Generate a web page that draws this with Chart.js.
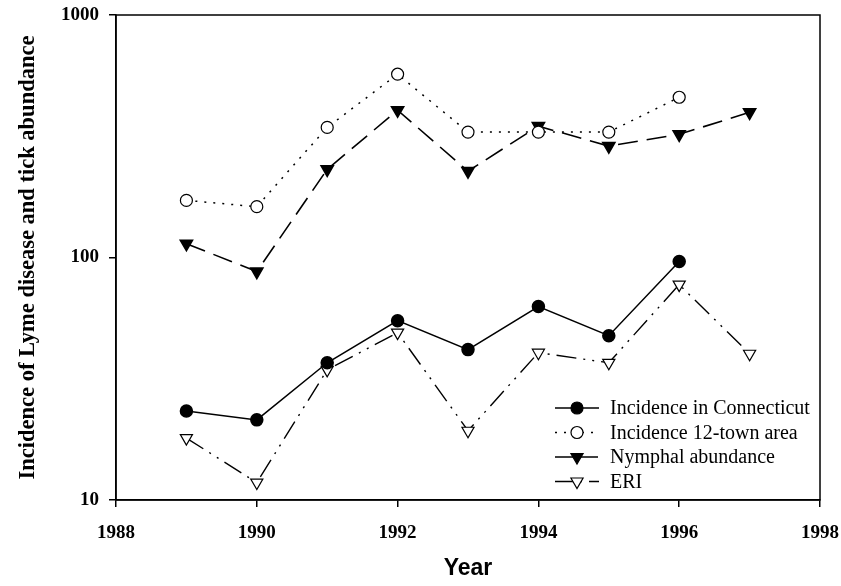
<!DOCTYPE html>
<html>
<head>
<meta charset="utf-8">
<script src="https://cdn.jsdelivr.net/npm/chart.js@4/dist/chart.umd.min.js"></script>
<style>
  html, body { margin: 0; padding: 0; background: #fff; }
  #wrap { width: 841px; height: 586px; }
</style>
</head>
<body>
<div id="wrap"><canvas id="chart" width="841" height="586"></canvas></div>
<script>
const years = [1989, 1990, 1991, 1992, 1993, 1994, 1995, 1996, 1997];
const incidenceCT = [23.3, 21.4, 36.8, 54.9, 41.7, 62.8, 47.6, 96.3];
const incidenceTown = [172, 162, 344, 570, 329, 329, 329, 458];
const nymphal = [114, 87.5, 231, 405, 227, 348, 288, 322, 397];
const eri = [18.0, 11.8, 34.4, 49.0, 19.3, 40.5, 36.8, 77.3, 40.1];
const xTicks = [1988, 1990, 1992, 1994, 1996, 1998];
const yTicks = [10, 100, 1000];
const labels = ["Incidence in Connecticut", "Incidence 12-town area", "Nymphal abundance", "ERI"];

const toPoints = (vals) => vals.map((v, i) => ({ x: years[i], y: v }));

const serif = "'Liberation Serif', 'Times New Roman', serif";

// frame round the plot + legend in the lower right corner
const framePlugin = {
  id: "frame",
  afterDraw(chart) {
    const { ctx, chartArea: a } = chart;
    ctx.save();
    ctx.strokeStyle = "#000";
    ctx.lineWidth = 1.5;
    ctx.strokeRect(a.left, a.top, a.right - a.left, a.bottom - a.top);

    ctx.font = "20px " + serif;
    ctx.textBaseline = "middle";
    chart.data.datasets.forEach((ds, i) => {
      const y = 408 + i * 24.5;
      const x0 = 555, x1 = 599, xm = 577;
      ctx.beginPath();
      ctx.setLineDash(ds.legendDash || []);
      ctx.lineWidth = ds.borderWidth;
      ctx.moveTo(x0, y);
      ctx.lineTo(x1, y);
      ctx.stroke();
      ctx.setLineDash([]);
      ctx.lineWidth = 1.2;
      ctx.beginPath();
      if (ds.pointStyle === "circle") {
        ctx.arc(xm, y, ds.pointRadius, 0, Math.PI * 2);
      } else {
        const r = ds.pointRadius;
        ctx.moveTo(xm - r * 0.87, y - r * 0.5);
        ctx.lineTo(xm + r * 0.87, y - r * 0.5);
        ctx.lineTo(xm, y + r);
        ctx.closePath();
      }
      ctx.fillStyle = ds.pointBackgroundColor;
      ctx.fill();
      ctx.stroke();
      ctx.fillStyle = "#000";
      ctx.fillText(labels[i], 610, y + 1);
    });
    ctx.restore();
  }
};

new Chart(document.getElementById("chart"), {
  type: "line",
  data: {
    datasets: [
      {
        label: labels[0], data: toPoints(incidenceCT),
        borderColor: "#000", borderWidth: 1.5, borderDash: [],
        pointStyle: "circle", pointRadius: 6, pointBackgroundColor: "#000", pointBorderColor: "#000",
        legendDash: []
      },
      {
        label: labels[1], data: toPoints(incidenceTown),
        borderColor: "#000", borderWidth: 1.5, borderDash: [2, 7],
        pointStyle: "circle", pointRadius: 6, pointBackgroundColor: "#fff", pointBorderColor: "#000", pointBorderWidth: 1.2,
        legendDash: [2, 7]
      },
      {
        label: labels[2], data: toPoints(nymphal),
        borderColor: "#000", borderWidth: 1.6, borderDash: [20, 9],
        pointStyle: "triangle", rotation: 180, pointRadius: 7, pointBackgroundColor: "#000", pointBorderColor: "#000",
        legendDash: [18, 7]
      },
      {
        label: labels[3], data: toPoints(eri),
        borderColor: "#000", borderWidth: 1.4, borderDash: [20, 7, 2, 7, 2, 7],
        pointStyle: "triangle", rotation: 180, pointRadius: 7, pointBackgroundColor: "#fff", pointBorderColor: "#000", pointBorderWidth: 1.2,
        legendDash: [18, 7, 2, 7]
      }
    ]
  },
  options: {
    responsive: false,
    animation: false,
    layout: { padding: { top: 15, right: 21, left: 0, bottom: 0 } },
    plugins: { legend: { display: false }, tooltip: { enabled: false } },
    scales: {
      x: {
        type: "linear", min: 1988, max: 1998,
        afterBuildTicks: (s) => { s.ticks = xTicks.map((v) => ({ value: v })); },
        afterFit: (s) => { s.height = 86; s.paddingLeft = 0; s.paddingRight = 0; },
        grid: { drawOnChartArea: false, drawTicks: true, tickLength: 7, color: "#000", lineWidth: 1.5 },
        border: { display: true, color: "#000", width: 1.5 },
        ticks: { color: "#000", font: { family: serif, size: 19, weight: "bold" }, padding: 15, maxRotation: 0, callback: (v) => String(v) },
        title: { display: true, text: "Year", color: "#000", font: { family: "'Liberation Sans', Arial, sans-serif", size: 23, weight: "bold" }, padding: { top: 10, bottom: 4 } }
      },
      y: {
        type: "logarithmic", min: 10, max: 1000,
        afterBuildTicks: (s) => { s.ticks = yTicks.map((v) => ({ value: v })); },
        afterFit: (s) => { s.width = 116; s.paddingTop = 0; s.paddingBottom = 0; },
        grid: { drawOnChartArea: false, drawTicks: true, tickLength: 7, color: "#000", lineWidth: 1.5 },
        border: { display: true, color: "#000", width: 1.5 },
        ticks: { color: "#000", font: { family: serif, size: 19, weight: "bold" }, padding: 10, callback: (v) => String(v) },
        title: { display: true, text: "Incidence of Lyme disease and tick abundance", color: "#000", font: { family: serif, size: 22.5, weight: "bold" }, padding: { top: 15, bottom: 0 } }
      }
    }
  },
  plugins: [framePlugin]
});
</script>
</body>
</html>
